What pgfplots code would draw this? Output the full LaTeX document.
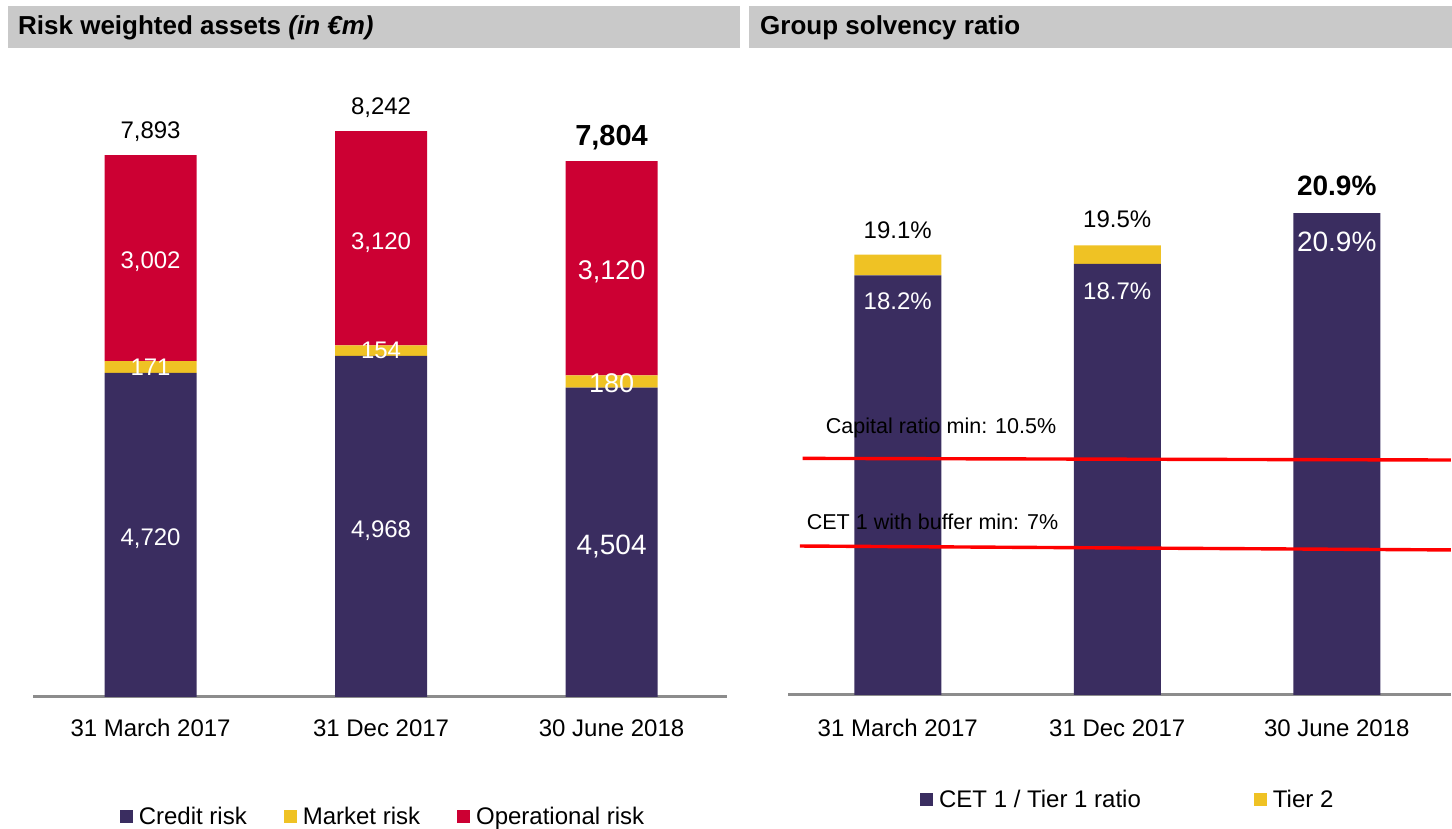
\documentclass[border=0pt]{standalone}
\usepackage{pgfplots}
\pgfplotsset{compat=1.18}
\usepackage{fontspec}
\setmainfont{Liberation Sans}
\definecolor{navy}{RGB}{58,45,96}
\definecolor{gold}{RGB}{239,194,36}
\definecolor{crim}{RGB}{204,0,51}
\definecolor{hdr}{RGB}{201,201,201}
\definecolor{axgray}{RGB}{140,140,140}
\newcommand{\fs}[1]{\fontsize{#1}{#1}\selectfont}
\pgfplotsset{
  sq/.style={legend image code/.code={\fill[##1] (0pt,-6.5pt) rectangle (13pt,6.5pt);}},
  common/.style={
    scale only axis, anchor=south west, ymin=0,
    axis x line=bottom, axis y line=none,
    x axis line style={-, line width=3pt, color=axgray},
    xtick={0,1,2}, xticklabels={31 March 2017,31 Dec 2017,30 June 2018},
    major tick length=0pt, ytick=\empty,
    legend columns=-1,
    clip=false,
  },
  overlay/.style={scale only axis, anchor=south west, ymin=0, hide axis, clip=false},
}
\begin{document}
\begin{tikzpicture}
\useasboundingbox (0pt,0pt) rectangle (1452pt,829pt);
\fill[hdr] (8pt,781pt) rectangle (740pt,823pt);
\fill[hdr] (749pt,781pt) rectangle (1452pt,823pt);
\node[anchor=west, inner sep=0pt, font=\fs{26}\bfseries] at (18pt,801pt) {Risk weighted assets \textit{(in €m)}};
\node[anchor=west, inner sep=0pt, font=\fs{26}\bfseries] at (760pt,801pt) {Group solvency ratio};

% Left chart
\begin{axis}[common,
  at={(33pt,132pt)}, width=693.8pt, height=618pt,
  xmin=-0.51, xmax=2.5, ymax=9000,
  ybar stacked, bar width=92pt,
  xticklabel style={font=\fs{24}, yshift=-19pt},
  legend style={at={(0.503,-0.194)}, anchor=center, draw=none, fill=none, font=\fs{24},
    nodes={inner sep=0pt},
    /tikz/every even column/.append style={column sep=37pt},
    /tikz/every odd column/.append style={column sep=6pt}},
]
\addplot[fill=navy, draw=none, sq] coordinates {(0,4720) (1,4968) (2,4504)};
\addplot[fill=gold, draw=none, sq] coordinates {(0,171) (1,154) (2,180)};
\addplot[fill=crim, draw=none, sq] coordinates {(0,3002) (1,3120) (2,3120)};
\legend{Credit risk, Market risk, Operational risk}
\end{axis}
\begin{axis}[overlay,
  at={(33pt,132pt)}, width=693.8pt, height=618pt,
  xmin=-0.51, xmax=2.5, ymax=9000]
\node[font=\fs{24}, yshift=23pt] at (axis cs:0,7893) {7,893};
\node[font=\fs{24}, yshift=23pt] at (axis cs:1,8242) {8,242};
\node[font=\fs{29}\bfseries, yshift=23pt] at (axis cs:2,7804) {7,804};
\node[font=\fs{24}, text=white, yshift=-4pt] at (axis cs:0,2360) {4,720};
\node[font=\fs{24}, text=white, yshift=-4pt] at (axis cs:1,2484) {4,968};
\node[font=\fs{28}, text=white, yshift=-4pt] at (axis cs:2,2252) {4,504};
\node[font=\fs{24}, text=white] at (axis cs:0,4805) {171};
\node[font=\fs{24}, text=white] at (axis cs:1,5045) {154};
\node[font=\fs{27}, text=white, yshift=-2pt] at (axis cs:2,4594) {180};
\node[font=\fs{24}, text=white, yshift=-4pt] at (axis cs:0,6392) {3,002};
\node[font=\fs{24}, text=white, yshift=-4pt] at (axis cs:1,6682) {3,120};
\node[font=\fs{27}, text=white, yshift=-4pt] at (axis cs:2,6244) {3,120};
\end{axis}

% Right chart
\begin{axis}[common,
  at={(788pt,134pt)}, width=662.9pt, height=576.5pt,
  xmin=-0.5, xmax=2.52, ymax=25,
  ybar stacked, bar width=87pt,
  xticklabel style={font=\fs{24}, yshift=-21pt},
  legend style={at={(0.511,-0.182)}, anchor=center, draw=none, fill=none, font=\fs{24},
    nodes={inner sep=0pt},
    /tikz/every even column/.append style={column sep=113pt},
    /tikz/every odd column/.append style={column sep=6pt}},
]
\addplot[fill=navy, draw=none, sq] coordinates {(0,18.2) (1,18.7) (2,20.9)};
\addplot[fill=gold, draw=none, sq] coordinates {(0,0.9) (1,0.8) (2,0)};
\legend{CET 1 / Tier 1 ratio, Tier 2}
\end{axis}

% Right chart overlay: labels and minimum lines
\begin{axis}[overlay,
  at={(788pt,134pt)}, width=662.9pt, height=576.5pt,
  xmin=-0.5, xmax=2.52, ymax=25]
\addplot[color=red, line width=3.4pt] coordinates {(-0.433,10.26) (2.52,10.19)};
\addplot[color=red, line width=3.4pt] coordinates {(-0.446,6.46) (2.52,6.29)};
\node[font=\fs{24}, yshift=24pt] at (axis cs:0,19.1) {19.1\%};
\node[font=\fs{24}, yshift=26pt] at (axis cs:1,19.5) {19.5\%};
\node[font=\fs{28}\bfseries, yshift=27pt] at (axis cs:2,20.9) {20.9\%};
\node[font=\fs{24}, text=white, yshift=-26pt] at (axis cs:0,18.2) {18.2\%};
\node[font=\fs{24}, text=white, yshift=-27pt] at (axis cs:1,18.7) {18.7\%};
\node[font=\fs{28}, text=white, yshift=-29pt] at (axis cs:2,20.9) {20.9\%};
\node[font=\fs{21.5}, anchor=west, inner sep=0pt] at (axis cs:-0.328,11.58) {Capital ratio min: 10.5\%};
\node[font=\fs{21.5}, anchor=west, inner sep=0pt] at (axis cs:-0.415,7.50) {CET 1 with buffer min: 7\%};
\end{axis}
\end{tikzpicture}
\end{document}
